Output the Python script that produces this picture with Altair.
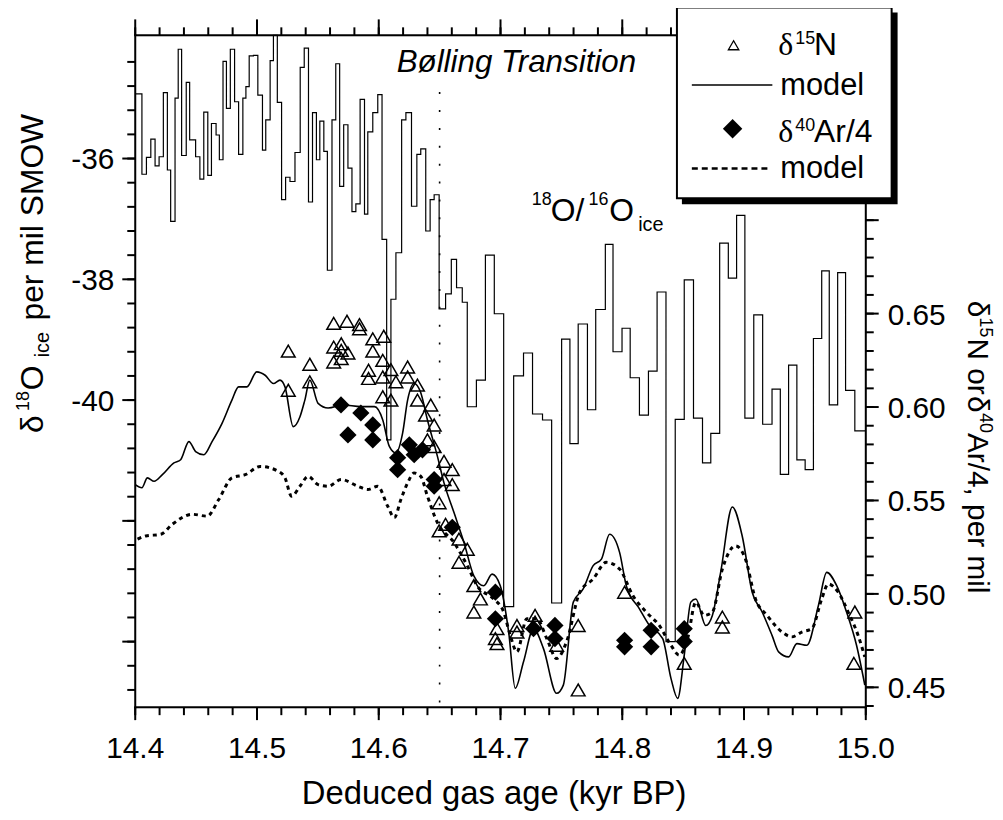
import altair as alt
import pandas as pd

# ---------------- data ----------------
step_age = [14.4000, 14.4055, 14.4092, 14.4128, 14.4163, 14.4196, 14.4231, 14.4264, 14.4291, 14.4327,
            14.4353, 14.4381, 14.4419, 14.4447, 14.4496, 14.4531, 14.4563, 14.4596, 14.4626, 14.4664,
            14.4691, 14.4721, 14.4749, 14.4781, 14.4816, 14.4849, 14.4884, 14.4909, 14.4936, 14.4971,
            14.5007, 14.5045, 14.5072, 14.5108, 14.5135, 14.5167, 14.5202, 14.5235, 14.5271, 14.5312,
            14.5355, 14.5388, 14.5423, 14.5456, 14.5488, 14.5516, 14.5549, 14.5578, 14.5616, 14.5647,
            14.5679, 14.5712, 14.5747, 14.5780, 14.5812, 14.5847, 14.5883, 14.5910, 14.5951, 14.5992,
            14.6027, 14.6065, 14.6100, 14.6141, 14.6188, 14.6223, 14.6269, 14.6313, 14.6345, 14.6386,
            14.6422, 14.6455, 14.6496, 14.6549, 14.6596, 14.6639, 14.6686, 14.6727, 14.6802, 14.6876,
            14.6949, 14.7026, 14.7108, 14.7189, 14.7263, 14.7345, 14.7420, 14.7502, 14.7570, 14.7638,
            14.7714, 14.7782, 14.7861, 14.7924, 14.7998, 14.8065, 14.8141, 14.8215, 14.8286, 14.8359,
            14.8435, 14.8509, 14.8585, 14.8659, 14.8727, 14.8800, 14.8871, 14.8939, 14.9007, 14.9080,
            14.9153, 14.9230, 14.9298, 14.9366, 14.9434, 14.9502, 14.9570, 14.9638, 14.9700, 14.9769,
            14.9834, 14.9910, 15.0000]
step_d18o = [-34.93, -36.26, -35.98, -35.68, -36.12, -35.97, -34.91, -36.19, -37.04, -35.00,
             -34.19, -35.95, -34.74, -35.69, -35.97, -36.34, -35.23, -36.28, -35.42, -35.61,
             -36.02, -34.39, -35.17, -34.19, -35.06, -35.93, -35.00, -34.81, -34.30, -34.29,
             -34.95, -35.86, -35.36, -34.38, -33.96, -35.07, -36.68, -36.31, -36.38, -35.90,
             -34.49, -34.17, -36.72, -35.24, -36.02, -35.38, -35.88, -37.85, -35.36, -34.43,
             -36.46, -35.44, -36.16, -36.88, -36.75, -35.02, -36.92, -35.56, -35.24, -34.94,
             -37.34, -40.66, -38.33, -37.56, -35.36, -35.24, -36.79, -35.93, -35.84, -37.20,
             -36.68, -36.60, -38.49, -38.24, -37.67, -38.14, -38.38, -40.11, -39.67, -37.60,
             -38.57, -43.42, -39.60, -39.22, -40.23, -40.33, -43.36, -38.99, -40.72, -38.74,
             -40.16, -38.50, -37.42, -39.20, -38.81, -39.63, -40.25, -39.52, -38.21, -44.00,
             -40.32, -38.01, -40.30, -41.04, -40.55, -37.40, -37.98, -36.94, -40.30, -38.59,
             -40.40, -39.82, -41.23, -39.42, -40.99, -41.15, -38.98, -37.86, -40.08, -37.89,
             -39.84, -40.51, -40.51]

n15_age = [14.5257, 14.5257, 14.5434, 14.5434, 14.5630, 14.5739, 14.5842, 14.5842, 14.5630, 14.5692,
           14.5692, 14.5747, 14.5630, 14.5692, 14.5951, 14.6041, 14.5951, 14.6033, 14.5916, 14.5916,
           14.6033, 14.6100, 14.6237, 14.6141, 14.6237, 14.6318, 14.6033, 14.6100, 14.6318, 14.6427,
           14.6384, 14.6455, 14.6400, 14.6455, 14.6536, 14.6604, 14.6536, 14.6604, 14.6496, 14.6496,
           14.6549, 14.6659, 14.6727, 14.6659, 14.6781, 14.6835, 14.6781, 14.6971, 14.6958, 14.6971,
           14.7135, 14.7135, 14.7284, 14.7284, 14.7461, 14.7638, 14.7638, 14.8019, 14.8509, 14.8822,
           14.8822, 14.9910, 14.9902]
n15_val = [0.6299, 0.6090, 0.6229, 0.6135, 0.6448, 0.6459, 0.6441, 0.6419, 0.6321, 0.6339,
           0.6303, 0.6289, 0.6241, 0.6259, 0.6365, 0.6379, 0.6299, 0.6250, 0.6197, 0.6153,
           0.6161, 0.6200, 0.6214, 0.6135, 0.6161, 0.6117, 0.6055, 0.6037, 0.6037, 0.6011,
           0.5957, 0.5904, 0.5824, 0.5789, 0.5709, 0.5665, 0.5612, 0.5585, 0.5488, 0.5337,
           0.5372, 0.5293, 0.5239, 0.5169, 0.5044, 0.4973, 0.4903, 0.4814, 0.4761, 0.4734,
           0.4831, 0.4796, 0.4885, 0.4849, 0.4725, 0.4831, 0.4486, 0.5009, 0.4628, 0.4876,
           0.4823, 0.4903, 0.4628]

ar_age = [14.5690, 14.5853, 14.5747, 14.5951, 14.5951, 14.6155, 14.6251, 14.6291, 14.6155, 14.6359,
          14.6455, 14.6455, 14.6604, 14.6958, 14.6958, 14.7271, 14.7447, 14.7447, 14.8019, 14.8019,
          14.8237, 14.8237, 14.8509, 14.8509]
ar_val = [0.6011, 0.5968, 0.5851, 0.5904, 0.5824, 0.5729, 0.5798, 0.5745, 0.5665, 0.5771,
          0.5612, 0.5576, 0.5356, 0.5009, 0.4867, 0.4814, 0.4831, 0.4761, 0.4752, 0.4717,
          0.4805, 0.4717, 0.4814, 0.4745]

n15_model_age = [14.4000, 14.4055, 14.4100, 14.4155, 14.4223, 14.4318, 14.4373, 14.4441, 14.4496, 14.4563,
                 14.4631, 14.4713, 14.4794, 14.4849, 14.4917, 14.4998, 14.5067, 14.5135, 14.5189, 14.5230,
                 14.5298, 14.5353, 14.5393, 14.5434, 14.5502, 14.5584, 14.5706, 14.5853, 14.5965, 14.6033,
                 14.6087, 14.6141, 14.6196, 14.6237, 14.6291, 14.6343, 14.6400, 14.6482, 14.6536, 14.6618,
                 14.6700, 14.6781, 14.6863, 14.6931, 14.6998, 14.7067, 14.7121, 14.7189, 14.7271, 14.7353,
                 14.7461, 14.7516, 14.7598, 14.7679, 14.7761, 14.7829, 14.7896, 14.7978, 14.8033, 14.8141,
                 14.8223, 14.8332, 14.8400, 14.8455, 14.8509, 14.8563, 14.8604, 14.8686, 14.8740, 14.8808,
                 14.8904, 14.8985, 14.9067, 14.9149, 14.9230, 14.9284, 14.9366, 14.9434, 14.9516, 14.9611,
                 14.9679, 14.9761, 14.9842, 14.9924, 14.9992]
n15_model_val = [0.5585, 0.5568, 0.5621, 0.5603, 0.5638, 0.5701, 0.5718, 0.5815, 0.5762, 0.5745,
                 0.5815, 0.5913, 0.6037, 0.6108, 0.6108, 0.6188, 0.6170, 0.6126, 0.6144, 0.6108,
                 0.5895, 0.5948, 0.6037, 0.6144, 0.6020, 0.5995, 0.6011, 0.6002, 0.6002, 0.5931,
                 0.5789, 0.5754, 0.5860, 0.6037, 0.6126, 0.6080, 0.5931, 0.5736, 0.5594, 0.5435,
                 0.5275, 0.5097, 0.5044, 0.5106, 0.5044, 0.4796, 0.4495, 0.4637, 0.4814, 0.4707,
                 0.4468, 0.4512, 0.4956, 0.5027, 0.5151, 0.5186, 0.5319, 0.5222, 0.5044, 0.4920,
                 0.4831, 0.4761, 0.4548, 0.4441, 0.4672, 0.4956, 0.4973, 0.4831, 0.4885, 0.5115,
                 0.5465, 0.5310, 0.5009, 0.4903, 0.4778, 0.4690, 0.4663, 0.4734, 0.4725, 0.4938,
                 0.5115, 0.5044, 0.4903, 0.4725, 0.4512]

ar_model_age = [14.4019, 14.4087, 14.4210, 14.4304, 14.4468, 14.4590, 14.4686, 14.4794, 14.4904, 14.5026,
                14.5176, 14.5230, 14.5284, 14.5353, 14.5420, 14.5502, 14.5584, 14.5692, 14.5829, 14.5910,
                14.5992, 14.6073, 14.6128, 14.6182, 14.6237, 14.6291, 14.6345, 14.6400, 14.6482, 14.6618,
                14.6727, 14.6808, 14.6944, 14.7026, 14.7080, 14.7135, 14.7216, 14.7298, 14.7380, 14.7461,
                14.7543, 14.7651, 14.7761, 14.7869, 14.7978, 14.8087, 14.8196, 14.8304, 14.8400, 14.8468,
                14.8536, 14.8604, 14.8672, 14.8740, 14.8822, 14.8931, 14.9012, 14.9094, 14.9189, 14.9312,
                14.9393, 14.9475, 14.9557, 14.9638, 14.9692, 14.9774, 14.9855, 14.9937, 14.9992]
ar_model_val = [0.5293, 0.5310, 0.5319, 0.5372, 0.5426, 0.5416, 0.5505, 0.5621, 0.5638, 0.5682,
                0.5656, 0.5621, 0.5523, 0.5576, 0.5629, 0.5585, 0.5576, 0.5612, 0.5576, 0.5559,
                0.5576, 0.5470, 0.5408, 0.5505, 0.5594, 0.5647, 0.5629, 0.5523, 0.5381, 0.5275,
                0.5151, 0.5044, 0.4973, 0.4903, 0.4778, 0.4690, 0.4867, 0.4867, 0.4761, 0.4654,
                0.4745, 0.5009, 0.5080, 0.5169, 0.5133, 0.4991, 0.4903, 0.4831, 0.4725, 0.4672,
                0.4761, 0.4956, 0.4885, 0.4903, 0.5133, 0.5257, 0.5186, 0.4973, 0.4885, 0.4796,
                0.4770, 0.4796, 0.4814, 0.4973, 0.5053, 0.5009, 0.4903, 0.4778, 0.4663]

transition_age = [14.65]
transition_top = [-34.90]
transition_bottom = [-45.086]

x_minor_ticks = [14.40, 14.42, 14.44, 14.46, 14.48, 14.50, 14.52, 14.54, 14.56, 14.58, 14.60, 14.62,
                 14.64, 14.66, 14.68, 14.70, 14.72, 14.74, 14.76, 14.78, 14.80, 14.82, 14.84, 14.86,
                 14.88, 14.90, 14.92, 14.94, 14.96, 14.98, 15.00]
x_major_ticks = [14.4, 14.5, 14.6, 14.7, 14.8, 14.9, 15.0]
left_minor_ticks = [-34.4, -34.8, -35.2, -35.6, -36.0, -36.4, -36.8, -37.2, -37.6, -38.0, -38.4, -38.8,
                    -39.2, -39.6, -40.0, -40.4, -40.8, -41.2, -41.6, -42.0, -42.4, -42.8, -43.2, -43.6,
                    -44.0, -44.4, -44.8]
left_major_ticks = [-36, -38, -40, -42, -44]
left_labels = [-36, -38, -40]
right_minor_ticks = [0.44, 0.45, 0.46, 0.47, 0.48, 0.49, 0.50, 0.51, 0.52, 0.53, 0.54, 0.55, 0.56, 0.57,
                     0.58, 0.59, 0.60, 0.61, 0.62, 0.63, 0.64, 0.65, 0.66, 0.67, 0.68, 0.69, 0.70, 0.71,
                     0.72, 0.73, 0.74, 0.75, 0.76, 0.77, 0.78, 0.79]
right_major_ticks = [0.45, 0.50, 0.55, 0.60, 0.65, 0.70, 0.75]
right_labels = [0.45, 0.50, 0.55, 0.60, 0.65]

# ---------------- styling ----------------
FONT = "Liberation Sans"
X_DOMAIN = [14.4, 15.0]
L_DOMAIN = [-45.086, -33.959]
R_DOMAIN = [0.43936, 0.79894]
W, H = 735, 676
MAJ, MIN = 13, 8
LBL = 30
PX_X = (X_DOMAIN[1] - X_DOMAIN[0]) / W      # data units per pixel, x
PX_L = (L_DOMAIN[1] - L_DOMAIN[0]) / H      # data units per pixel, left y

xscale = alt.Scale(domain=X_DOMAIN, nice=False, zero=False)
lscale = alt.Scale(domain=L_DOMAIN, nice=False, zero=False)
rscale = alt.Scale(domain=R_DOMAIN, nice=False, zero=False)

step_df = pd.DataFrame({"age": step_age, "d18o": step_d18o})
n15_df = pd.DataFrame({"age": n15_age, "v": n15_val})
ar_df = pd.DataFrame({"age": ar_age, "v": ar_val})
n15m_df = pd.DataFrame({"age": n15_model_age, "v": n15_model_val})
arm_df = pd.DataFrame({"age": ar_model_age, "v": ar_model_val})
tr_df = pd.DataFrame({"age": transition_age, "top": transition_top, "bottom": transition_bottom})
ONE = pd.DataFrame({"k": [0]})

X = lambda f: alt.X(f, scale=xscale, axis=None)
YL = lambda f: alt.Y(f, scale=lscale, axis=None)
YR = lambda f: alt.Y(f, scale=rscale, axis=None)

steps = alt.Chart(step_df).mark_line(interpolate="step-after", color="black", strokeWidth=1.2).encode(
    x=X("age:Q"), y=YL("d18o:Q"))

transition = alt.Chart(tr_df).mark_rule(color="black", strokeWidth=1.6, strokeDash=[2, 16]).encode(
    x=X("age:Q"), y=YL("top:Q"), y2="bottom:Q")

n15_model = alt.Chart(n15m_df).mark_line(color="black", strokeWidth=1.6, interpolate="monotone").encode(
    x=X("age:Q"), y=YR("v:Q"))

ar_model = alt.Chart(arm_df).mark_line(color="black", strokeWidth=3, strokeDash=[4, 4],
                                       interpolate="monotone").encode(x=X("age:Q"), y=YR("v:Q"))

n15_pts = alt.Chart(n15_df).mark_point(shape="triangle-up", size=190, filled=False, color="black",
                                       strokeWidth=1.5, opacity=1).encode(x=X("age:Q"), y=YR("v:Q"))

ar_pts = alt.Chart(ar_df).mark_point(shape="diamond", size=300, filled=True, color="black",
                                     opacity=1).encode(x=X("age:Q"), y=YR("v:Q"))


# ---- frame, ticks and tick labels drawn through the scales ----
def frame(x0, x1, y0, y1):
    return alt.Chart(ONE).mark_rule(color="black", strokeWidth=2, strokeCap="square").encode(
        x=alt.value(x0), x2=alt.value(x1), y=alt.value(y0), y2=alt.value(y1))


frames = [frame(0, W, H, H), frame(0, W, 0, 0), frame(0, 0, 0, H), frame(W, W, 0, H)]


def xticks_top(values, length):
    return alt.Chart(pd.DataFrame({"t": values})).mark_rule(color="black", strokeWidth=2).encode(
        x=X("t:Q"), y=alt.value(0), y2=alt.value(-length))


def xticks_bottom(values, length):
    return alt.Chart(pd.DataFrame({"t": values})).transform_calculate(
        y0=str(L_DOMAIN[0]), y1=str(L_DOMAIN[0] - length * PX_L)).mark_rule(
        color="black", strokeWidth=2).encode(x=X("t:Q"), y=YL("y0:Q"), y2="y1:Q")


def yticks_left(values, length):
    return alt.Chart(pd.DataFrame({"t": values})).transform_calculate(
        x0=str(X_DOMAIN[0]), x1=str(X_DOMAIN[0] - length * PX_X)).mark_rule(
        color="black", strokeWidth=2).encode(y=YL("t:Q"), x=X("x0:Q"), x2="x1:Q")


def yticks_right(values, length):
    return alt.Chart(pd.DataFrame({"t": values})).mark_rule(color="black", strokeWidth=2).encode(
        y=YR("t:Q"), x=alt.value(W), x2=alt.value(W + length))


ticks = [
    xticks_bottom(x_minor_ticks, MIN), xticks_bottom(x_major_ticks, MAJ),
    xticks_top(x_minor_ticks, MIN), xticks_top(x_major_ticks, MAJ + 3),
    yticks_left(left_minor_ticks, MIN), yticks_left(left_major_ticks, MAJ),
    yticks_right(right_minor_ticks, MIN), yticks_right(right_major_ticks, MAJ),
]

x_lab = alt.Chart(pd.DataFrame({"t": x_major_ticks})).mark_text(
    font=FONT, fontSize=LBL, color="black", align="center", baseline="alphabetic").encode(
    x=X("t:Q"), y=alt.value(H + 51), text=alt.Text("t:Q", format=".1f"))
l_lab = alt.Chart(pd.DataFrame({"t": left_labels})).transform_calculate(
    lbl="'-' + format(-datum.t, 'd')").mark_text(
    font=FONT, fontSize=LBL, color="black", align="right", baseline="alphabetic", dy=11).encode(
    y=YL("t:Q"), x=alt.value(-21), text="lbl:N")
r_lab = alt.Chart(pd.DataFrame({"t": right_labels})).mark_text(
    font=FONT, fontSize=LBL, color="black", align="left", baseline="alphabetic", dy=11).encode(
    y=YR("t:Q"), x=alt.value(W + 22), text=alt.Text("t:Q", format=".2f"))


def txt(s, x, y, size, angle=0, align="left", baseline="alphabetic", font=FONT, style="normal"):
    return alt.Chart(ONE).mark_text(text=s, fontSize=size, angle=angle, align=align, baseline=baseline,
                                    font=font, fontStyle=style, color="black").encode(
        x=alt.value(x), y=alt.value(y))


texts = [
    txt("Bølling Transition", 263, 37, 31.5, style="italic"),
    txt("18", 399, 171, 18), txt("O/", 418, 187, 32), txt("16", 456, 171, 18),
    txt("O", 477, 187, 32), txt("ice", 506, 197, 20),
    # left axis title (reads bottom to top)
    txt("δ", -93, 400, 32, angle=270), txt("18", -107, 378, 18, angle=270),
    txt("O", -93, 357, 32, angle=270), txt("ice", -87, 324, 20, angle=270),
    txt("per mil SMOW", -93, 287, 32, angle=270),
    # right axis title (reads top to bottom)
    txt("δ", 838, 267, 30, angle=90), txt("15", 850, 284, 18, angle=90),
    txt("N or", 838, 305, 30, angle=90), txt("δ", 838, 363, 30, angle=90),
    txt("40", 850, 380, 18, angle=90), txt("Ar/4, per mil", 838, 400, 30, angle=90),
    # x title
    txt("Deduced gas age (kyr BP)", 361, 773, 33, align="center"),
]

# legend box
shadow = alt.Chart(ONE).mark_rect(color="black").encode(
    x=alt.value(550), x2=alt.value(767), y=alt.value(-23), y2=alt.value(170))
box = alt.Chart(ONE).mark_rect(fill="white", stroke="black", strokeWidth=2).encode(
    x=alt.value(545), x2=alt.value(761), y=alt.value(-28), y2=alt.value(164))
leg_tri = alt.Chart(ONE).mark_point(shape="triangle-up", size=110, filled=False, color="black",
                                    strokeWidth=1.3, opacity=1).encode(x=alt.value(602), y=alt.value(10))
leg_line = alt.Chart(ONE).mark_rule(color="black", strokeWidth=1.6).encode(
    x=alt.value(560), x2=alt.value(641), y=alt.value(50))
leg_dia = alt.Chart(ONE).mark_point(shape="diamond", size=380, filled=True, color="black",
                                    opacity=1).encode(x=alt.value(601), y=alt.value(94))
leg_dash = alt.Chart(ONE).mark_rule(color="black", strokeWidth=2.5, strokeDash=[6, 4]).encode(
    x=alt.value(560), x2=alt.value(637), y=alt.value(134))
leg_texts = [
    txt("δ", 647, 20, 32, font="Liberation Serif"), txt("15", 664, 9, 18), txt("N", 683, 20, 32),
    txt("model", 649, 60, 31),
    txt("δ", 647, 107, 32, font="Liberation Serif"), txt("40", 664, 96, 18), txt("Ar/4", 683, 107, 32),
    txt("model", 649, 144, 31),
]

chart = alt.layer(
    steps, transition, n15_model, ar_model, n15_pts, ar_pts, *frames, *ticks, x_lab, l_lab, r_lab, *texts,
    shadow, box, leg_tri, leg_line, leg_dia, leg_dash, *leg_texts,
).resolve_scale(y="independent").properties(
    width=W, height=H,
    padding={"left": 128, "top": 25, "right": 130, "bottom": 108},
    autosize=alt.AutoSizeParams(type="none"),
).configure_view(stroke=None).configure(background="white")

chart.save("out.html", embed_options={"renderer": "svg", "actions": False})
